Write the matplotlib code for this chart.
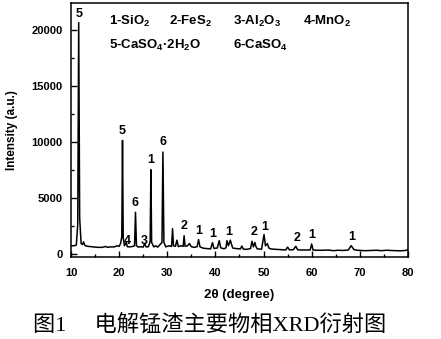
import matplotlib
matplotlib.use("Agg")
import matplotlib.pyplot as plt
from matplotlib.ticker import MultipleLocator

plt.rcParams['font.family'] = ['Liberation Sans', 'DejaVu Sans']
plt.rcParams['font.weight'] = 'bold'
plt.rcParams['mathtext.fontset'] = 'custom'
plt.rcParams['mathtext.rm'] = 'Liberation Sans:bold'
plt.rcParams['mathtext.it'] = 'Liberation Sans:bold'
plt.rcParams['mathtext.bf'] = 'Liberation Sans:bold'

# XRD trace vertices (2theta, intensity)
two_theta = [10.0, 10.6, 11.1, 11.4, 11.6, 11.8, 12.1, 12.4, 12.6, 12.9, 13.5, 14.5, 15.5,
             16.5, 17.2, 17.6, 18.2, 19.0, 19.6, 20.0, 20.3, 20.55, 20.7, 20.85, 21.1, 21.5,
             21.7, 22.2, 22.8, 23.2, 23.4, 23.6, 24.0, 24.5, 25.0, 25.3, 25.6, 26.1, 26.45,
             26.6, 26.75, 27.2, 27.6, 28.0, 28.4, 28.9, 29.1, 29.3, 29.7, 30.3, 30.9, 31.1,
             31.3, 31.7, 32.0, 32.3, 32.8, 33.3, 33.5, 33.7, 34.2, 34.6, 35.0, 35.6, 36.2,
             36.5, 36.8, 37.5, 38.2, 39.0, 39.4, 39.7, 40.4, 40.8, 41.1, 41.8, 42.2, 42.4,
             42.7, 43.1, 43.3, 43.6, 44.3, 45.2, 45.5, 45.8, 46.5, 47.3, 47.6, 47.9, 48.2,
             48.4, 48.7, 49.6, 50.1, 50.4, 50.8, 51.1, 51.5, 52.5, 53.5, 54.6, 55.0, 55.4,
             56.2, 56.7, 57.1, 58.0, 59.0, 59.7, 60.0, 60.3, 61.0, 62.5, 63.5, 64.5, 65.5,
             66.5, 67.6, 68.2, 68.8, 69.5, 71.0, 72.5, 73.5, 74.5, 75.5, 76.5, 77.5, 78.5,
             79.5, 80.0]
intensity = [700, 700, 760, 2600, 20650, 3200, 900, 800, 1050, 720, 650, 600, 560,
             560, 640, 560, 600, 600, 700, 650, 900, 1500, 10120, 1400, 700, 1000,
             620, 600, 640, 700, 3690, 700, 580, 620, 580, 900, 600, 620, 1100,
             7500, 1000, 600, 700, 580, 760, 1000, 9080, 1000, 600, 700, 650, 2230,
             700, 650, 1200, 620, 700, 650, 1600, 650, 700, 900, 620, 560, 620,
             1250, 600, 480, 450, 420, 980, 460, 500, 1160, 520, 430, 520, 1160,
             700, 1200, 900, 500, 450, 420, 680, 400, 380, 450, 1100, 600, 1000,
             650, 420, 400, 1700, 700, 900, 500, 420, 380, 360, 320, 580, 330,
             350, 650, 340, 320, 330, 330, 860, 320, 300, 300, 320, 260, 300,
             280, 320, 710, 350, 300, 260, 280, 300, 260, 300, 280, 260, 250,
             280, 350]

# peak labels: phase index, 2theta, label height
peak_labels = ['5', '5', '4', '6', '3', '1', '6', '2', '1', '1', '1', '2', '1', '2', '1', '1']
peak_x = [11.7, 20.7, 21.8, 23.4, 25.2, 26.6, 29.2, 33.4, 36.6, 39.4, 42.8, 48.1, 50.2, 57.0, 60.0, 68.3]
peak_y = [20900, 10400, 600, 4000, 600, 7800, 9400, 1900, 1500, 1200, 1400, 1400, 1800, 900, 1100, 950]

legend_labels = ['1-SiO$_2$', '2-FeS$_2$', '3-Al$_2$O$_3$', '4-MnO$_2$',
                 '5-CaSO$_4$·2H$_2$O', '6-CaSO$_4$']
legend_x = [17.8, 30.3, 43.7, 58.1, 17.8, 43.7]
legend_y = [20750, 20750, 20750, 20750, 18600, 18600]

fig = plt.figure(figsize=(4.41, 3.39), dpi=100)
ax = fig.add_axes([0.161, 0.242, 0.764, 0.749])
ax.plot(two_theta, intensity, color='black', lw=1.1)

for s, x, y in zip(peak_labels, peak_x, peak_y):
    ax.text(x, y, s, ha='center', va='bottom', fontsize=9, fontweight='bold')
for s, x, y in zip(legend_labels, legend_x, legend_y):
    ax.text(x, y, s, ha='left', va='center', fontsize=9.5, fontweight='bold')

ax.set_xlim(10, 80)
ax.set_ylim(-300, 22400)
ax.xaxis.set_major_locator(MultipleLocator(10))
ax.xaxis.set_minor_locator(MultipleLocator(5))
ax.yaxis.set_major_locator(MultipleLocator(5000))
ax.yaxis.set_minor_locator(MultipleLocator(2500))
ax.tick_params(which='both', direction='in', labelsize=8, width=1)
ax.tick_params(which='major', length=4)
ax.tick_params(which='minor', length=2.5)
ax.tick_params(axis='x', which='major', pad=8)
ax.tick_params(axis='y', which='major', pad=6)
for lbl in ax.get_xticklabels() + ax.get_yticklabels():
    lbl.set_fontweight('bold')
for sp in ax.spines.values():
    sp.set_linewidth(1.1)

ax.set_xlabel('2θ (degree)', fontsize=9.5, fontweight='bold', labelpad=8)
ax.set_ylabel('Intensity (a.u.)', fontsize=8.5, fontweight='bold', labelpad=10)

fig.text(0.475, 0.04, '图1     电解锰渣主要物相XRD衍射图', ha='center', va='center',
         fontsize=16, fontweight='normal', family=['Liberation Serif', 'Noto Sans CJK SC'])

fig.savefig('out.png', dpi=100)
